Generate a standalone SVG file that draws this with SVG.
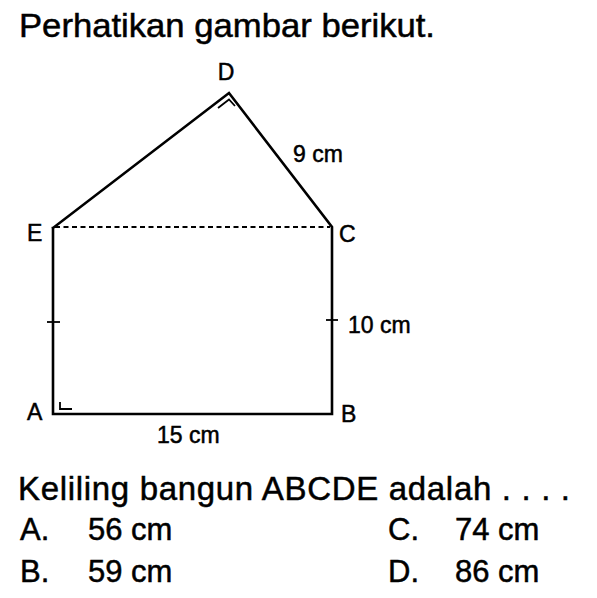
<svg xmlns="http://www.w3.org/2000/svg" width="597" height="598" viewBox="0 0 597 598">
<style>
.t{font-family:"Liberation Sans",Arial,sans-serif;fill:#000;stroke:#000;stroke-width:0.5}
.ln{stroke:#000;stroke-width:2.6;fill:none;stroke-linecap:square}
.th{stroke:#000;stroke-width:1.8;fill:none}
</style>
<rect width="597" height="598" fill="#fff"/>
<text class="t" x="19" y="37" font-size="34" textLength="416" lengthAdjust="spacingAndGlyphs">Perhatikan gambar berikut.</text>
<g id="shape">
<polyline class="ln" points="53,228 229,93 332,227 332,414 53,414 53,228"/>
<line x1="55" y1="227" x2="330" y2="227" stroke="#000" stroke-width="2" stroke-dasharray="5,3.5"/>
<polyline class="th" points="218,108 229,99.5 235,106"/>
<polyline class="th" points="60,402 60,409 72,409"/>
<line class="th" x1="47" y1="322" x2="60" y2="322" stroke-width="2.4"/>
<line class="th" x1="326" y1="320" x2="338" y2="320" stroke-width="2"/>
</g>
<g id="labels">
<text class="t" x="226" y="80" font-size="23" text-anchor="middle">D</text>
<text class="t" x="27" y="241" font-size="23">E</text>
<text class="t" x="339" y="242" font-size="23">C</text>
<text class="t" x="27" y="420" font-size="23">A</text>
<text class="t" x="341" y="422" font-size="23">B</text>
<text class="t" x="293" y="162" font-size="23">9  cm</text>
<text class="t" x="348" y="333" font-size="23">10  cm</text>
<text class="t" x="157" y="443" font-size="23">15  cm</text>
</g>
<text class="t" x="18" y="500" font-size="33" textLength="552" lengthAdjust="spacing">Keliling bangun ABCDE adalah . . . .</text>
<text class="t" x="20" y="540" font-size="31">A.</text>
<text class="t" x="88" y="540" font-size="31">56 cm</text>
<text class="t" x="20" y="582" font-size="31">B.</text>
<text class="t" x="88" y="582" font-size="31">59 cm</text>
<text class="t" x="388" y="540" font-size="31">C.</text>
<text class="t" x="455" y="540" font-size="31">74 cm</text>
<text class="t" x="388" y="582" font-size="31">D.</text>
<text class="t" x="455" y="582" font-size="31">86 cm</text>
</svg>
